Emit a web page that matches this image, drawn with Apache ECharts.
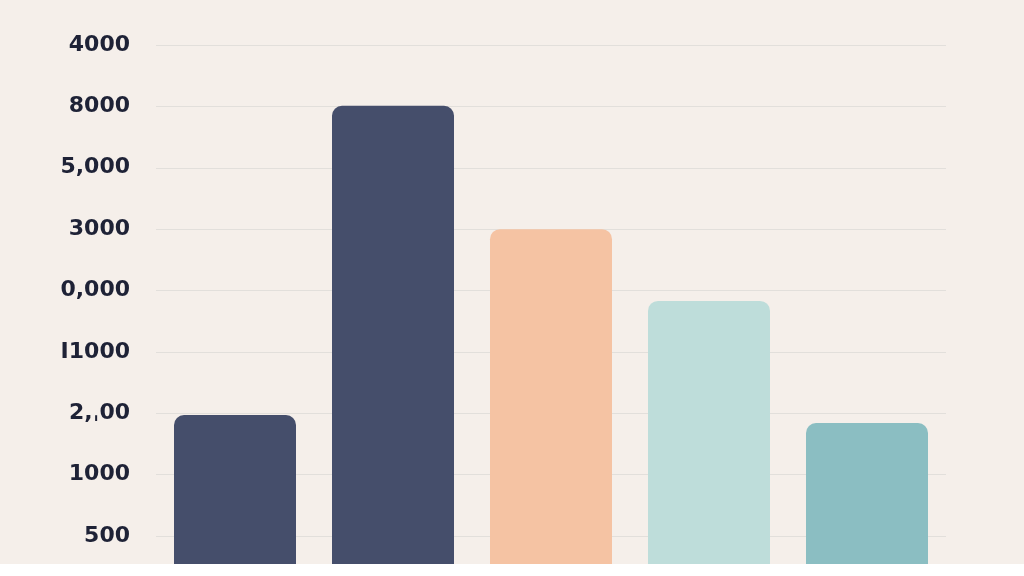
<!DOCTYPE html>
<html>
<head>
<meta charset="utf-8">
<script src="https://cdn.jsdelivr.net/npm/echarts@6/dist/echarts.min.js"></script>
<style>
html,body{margin:0;padding:0;background:#F5EFEA;}
#c{width:1024px;height:576px;}
</style>
</head>
<body>
<div id="c"></div>
<script>
// tick labels, bottom to top (tick 1 .. 9); tick 0 sits below the picture
const tickLabels = ["500", "1000", "2,\u02CC00", "I1000", "0,000", "3000", "5,000", "8000", "4000"];
const categories = ["A", "B", "C", "D", "E"];
const values = [2.97, 8.01, 6.0, 4.83, 2.84];
const colors = ["#454E6B", "#454E6B", "#F5C3A3", "#BEDDDA", "#8BBEC2"];

const chart = echarts.init(document.getElementById('c'));
chart.setOption({
  backgroundColor: '#F5EFEA',
  animation: false,
  grid: { left: 156, right: 78, top: 45, height: 552.4, containLabel: false, outerBoundsMode: 'none' },
  xAxis: {
    type: 'category', data: categories,
    axisLine: { show: false }, axisTick: { show: false }, axisLabel: { show: false }
  },
  yAxis: {
    type: 'value', min: 0, max: 9, interval: 1,
    axisLine: { show: false }, axisTick: { show: false },
    splitLine: { lineStyle: { color: '#E2DFDB', width: 1 } },
    axisLabel: {
      margin: 26, fontSize: 22, fontWeight: 600, color: '#1E2236',
      fontFamily: 'DejaVu Sans', padding: [0, 0, 6, 0],
      formatter: v => (v >= 1 ? tickLabels[v - 1] : '')
    }
  },
  series: [{
    type: 'bar', barWidth: 122,
    data: values.map((v, i) => ({ value: v, itemStyle: { color: colors[i] } })),
    itemStyle: { borderRadius: [10, 10, 0, 0] }
  }],
  graphic: [{
    type: 'rect', left: 0, top: 564, z: 100,
    shape: { width: 1024, height: 12 },
    style: { fill: '#FFFFFF' }
  }]
});
</script>
</body>
</html>
